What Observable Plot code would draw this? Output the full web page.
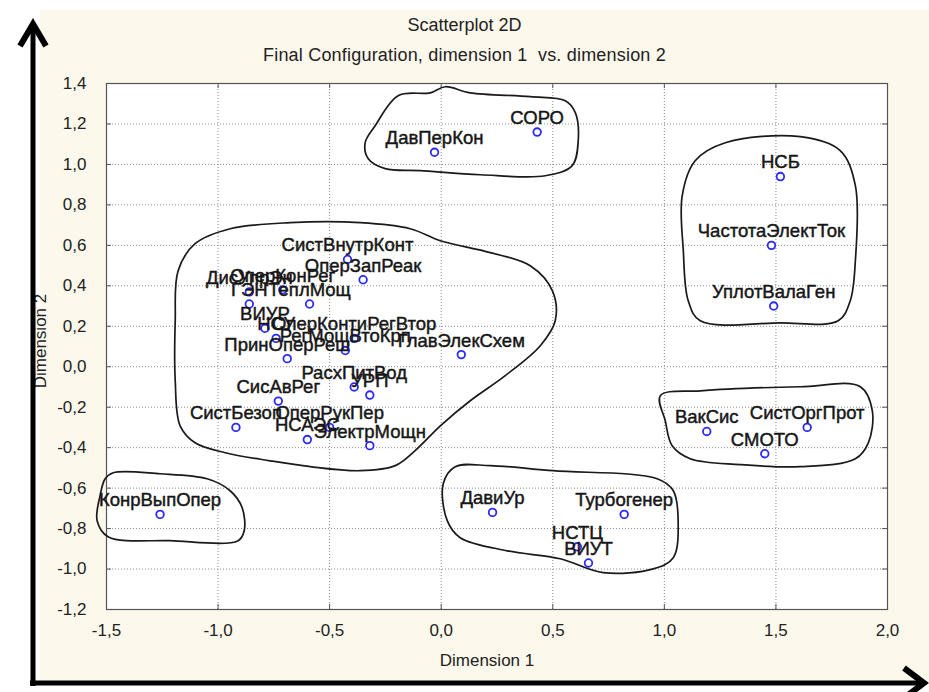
<!DOCTYPE html>
<html><head><meta charset="utf-8">
<script src="https://cdn.jsdelivr.net/npm/d3@7"></script>
<script src="https://cdn.jsdelivr.net/npm/@observablehq/plot@0.6"></script>
<style>
html,body{margin:0;padding:0;background:#fff;}
#wrap{position:relative;width:929px;height:692px;overflow:hidden;}
#panel{position:absolute;left:40px;top:10px;width:889px;height:672px;background:#fdf8ec;}
#chart{position:absolute;left:0;top:0;}
.t{position:absolute;font-family:"Liberation Sans Narrow","Liberation Sans",sans-serif;color:#222;white-space:nowrap;}
#arrows{position:absolute;left:0;top:0;pointer-events:none}
</style></head><body>
<div id="wrap">
<div id="panel"></div>
<div id="chart"></div>
<div class="t" style="left:0;width:929px;text-align:center;top:15px;font-size:18px">Scatterplot 2D</div>
<div class="t" style="left:0;width:929px;text-align:center;top:45px;font-size:18px;letter-spacing:0.2px">Final Configuration, dimension 1&nbsp; vs. dimension 2</div>
<div class="t" style="left:387px;width:200px;text-align:center;top:651px;font-size:17px">Dimension 1</div>
<div class="t" style="left:-59px;width:200px;text-align:center;top:331px;font-size:17px;transform:rotate(-90deg)">Dimension 2</div>
<svg id="arrows" width="929" height="692">
  <line x1="33" y1="686" x2="33" y2="26" stroke="#000" stroke-width="5"/>
  <polyline points="20,46 33,24 46,46" fill="none" stroke="#000" stroke-width="6" stroke-linejoin="miter"/>
  <line x1="30" y1="683" x2="922" y2="683" stroke="#000" stroke-width="5"/>
  <polyline points="904,668 924,683 904,698" fill="none" stroke="#000" stroke-width="6" stroke-linejoin="miter"/>
</svg>
</div>
<script>
// ---- data ----
const names = ["ДавПерКон","СОРО","НСБ","ЧастотаЭлектТок","УплотВалаГен","ВакСис","СистОргПрот","СМОТО",
  "ДавиУр","Турбогенер","НСТЦ","ВИУТ","КонрВыпОпер",
  "СистВнутрКонт","ОперЗапРеак","ДисУпрЭн","ОперКонРег","ГЭН","ТеплМощ","ВИУР","НСУ","ОперКонтиРегВтор",
  "РегМощВтоКрп","ПринОперРеш","ГлавЭлекСхем","РасхПитВод","УРП","СисАвРег","СистБезоп","ОперРукПер","НСАЭС","ЭлектрМощн"];
const dim1 = [-0.03,0.43,1.52,1.48,1.49,1.19,1.64,1.45,
  0.23,0.82,0.61,0.66,-1.26,
  -0.42,-0.35,-0.86,-0.71,-0.86,-0.59,-0.79,-0.74,-0.39,
  -0.43,-0.69,0.09,-0.39,-0.32,-0.73,-0.92,-0.50,-0.60,-0.32];
const dim2 = [1.06,1.16,0.94,0.60,0.30,-0.32,-0.30,-0.43,
  -0.72,-0.73,-0.89,-0.97,-0.73,
  0.53,0.43,0.37,0.38,0.31,0.31,0.19,0.14,0.14,
  0.08,0.04,0.06,-0.10,-0.14,-0.17,-0.30,-0.30,-0.36,-0.39];

const xTicks = [-1.5,-1.0,-0.5,0.0,0.5,1.0,1.5,2.0];
const yTicks = [-1.2,-1.0,-0.8,-0.6,-0.4,-0.2,0.0,0.2,0.4,0.6,0.8,1.0,1.2,1.4];

// hand-drawn cluster outlines (dimension 1, dimension 2)
const outlineTop = [[-0.296,1.191],[-0.193,1.340],[-0.049,1.354],[0.018,1.384],[0.130,1.354],[0.399,1.335],[0.556,1.315],[0.601,1.256],[0.614,1.117],[0.587,0.994],[0.466,0.944],[0.175,0.949],[-0.094,0.969],[-0.251,0.979],[-0.327,1.028],[-0.341,1.107]];
const outlineTopRight = [[1.138,1.018],[1.273,1.107],[1.609,1.137],[1.788,1.068],[1.856,0.895],[1.856,0.524],[1.833,0.326],[1.779,0.227],[1.519,0.217],[1.161,0.227],[1.107,0.326],[1.085,0.573],[1.080,0.845]];
const outlineRight = [[0.982,-0.143],[1.161,-0.119],[1.609,-0.099],[1.878,-0.099],[1.932,-0.218],[1.914,-0.376],[1.856,-0.455],[1.609,-0.494],[1.340,-0.484],[1.116,-0.455],[1.035,-0.391],[1.004,-0.267]];
const outlineBottom = [[0.009,-0.578],[0.027,-0.761],[0.085,-0.845],[0.296,-0.910],[0.533,-0.949],[0.726,-1.018],[0.950,-0.999],[1.040,-0.944],[1.062,-0.776],[1.040,-0.613],[0.968,-0.554],[0.502,-0.514],[0.220,-0.489],[0.063,-0.494]];
const outlineLeft = [[-1.470,-0.524],[-1.260,-0.529],[-1.049,-0.554],[-0.946,-0.613],[-0.892,-0.697],[-0.883,-0.811],[-0.910,-0.860],[-1.215,-0.860],[-1.493,-0.840],[-1.542,-0.761],[-1.529,-0.638],[-1.506,-0.554]];
const outlineCenter = [[-1.179,0.475],[-1.103,0.608],[-0.946,0.682],[-0.677,0.712],[-0.363,0.712],[-0.139,0.682],[-0.004,0.623],[0.220,0.564],[0.399,0.499],[0.498,0.376],[0.511,0.227],[0.444,0.104],[0.287,-0.044],[0.130,-0.168],[-0.004,-0.292],[-0.117,-0.415],[-0.206,-0.489],[-0.363,-0.514],[-0.587,-0.494],[-0.766,-0.465],[-0.968,-0.425],[-1.103,-0.376],[-1.170,-0.292],[-1.192,-0.069],[-1.192,0.227]];

// ---- build ----
const pts = names.map((n,i) => ({name:n, x:dim1[i], y:dim2[i]}));
const fmt = d => d.toFixed(1).replace("-0.0","0.0").replace(".", ",");
const outlines = [outlineTop, outlineTopRight, outlineRight, outlineBottom, outlineLeft, outlineCenter];
const narrow = '"Liberation Sans Narrow","Liberation Sans",sans-serif';

const chart = Plot.plot({
  width: 929, height: 692,
  marginLeft: 106, marginRight: 42, marginTop: 83, marginBottom: 83,
  style: {background: "transparent", fontFamily: narrow, fontSize: "16px", color: "#222", overflow: "visible"},
  x: {domain: [-1.5, 2.0], label: null},
  y: {domain: [-1.2, 1.4], label: null},
  marks: [
    Plot.frame({fill: "white", stroke: null}),
    Plot.gridX(xTicks, {stroke: "#8a8a8a", strokeOpacity: 1, strokeDasharray: "1,2"}),
    Plot.gridY(yTicks, {stroke: "#8a8a8a", strokeOpacity: 1, strokeDasharray: "1,2"}),
    Plot.ruleX(xTicks, {x: d => d, y1: -1.2, y2: -1.175, stroke: "#555"}),
    Plot.ruleX(xTicks, {x: d => d, y1: 1.4, y2: 1.375, stroke: "#555"}),
    Plot.ruleY(yTicks, {y: d => d, x1: -1.5, x2: -1.478, stroke: "#555"}),
    Plot.ruleY(yTicks, {y: d => d, x1: 2.0, x2: 1.978, stroke: "#555"}),
    Plot.frame({stroke: "#555", strokeWidth: 1.2}),
    Plot.axisX(xTicks, {tickSize: 0, tickPadding: 14, tickFormat: fmt, fontFamily: narrow, fontSize: 17, label: null}),
    Plot.axisY(yTicks, {tickSize: 0, tickPadding: 20, tickFormat: fmt, fontFamily: narrow, fontSize: 17, label: null}),
    ...outlines.map(o => Plot.line(o, {x: d => d[0], y: d => d[1], curve: "catmull-rom-closed", stroke: "#1a1a1a", strokeWidth: 1.7})),
    Plot.dot(pts, {x: "x", y: "y", r: 3.8, stroke: "#2a2aff", strokeWidth: 1.8, fill: "white"}),
    Plot.text(pts, {x: "x", y: "y", text: "name", dy: -14, fontFamily: '"Liberation Sans",Arial,sans-serif', fontSize: 18.5, fill: "#161616", stroke: "#161616", strokeWidth: 0.45, textAnchor: "middle"})
  ]
});
document.getElementById("chart").appendChild(chart);
</script>
</body></html>
